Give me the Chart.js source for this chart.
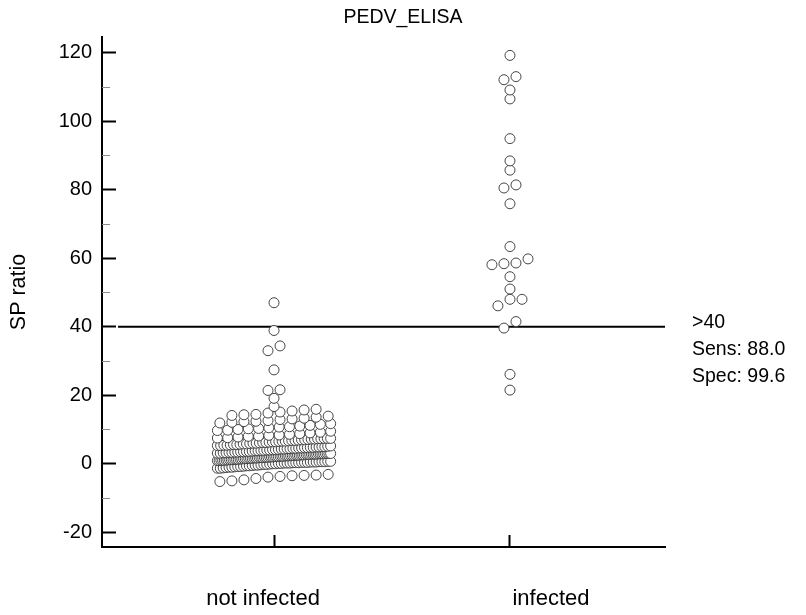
<!DOCTYPE html>
<html>
<head>
<meta charset="utf-8">
<title>PEDV_ELISA</title>
<script src="https://cdn.jsdelivr.net/npm/chart.js@4.4.0/dist/chart.umd.min.js"></script>
<style>
  html, body { margin: 0; padding: 0; background: #fff; }
  #wrap { width: 806px; height: 615px; }
</style>
</head>
<body>
<div id="wrap"><canvas id="dotChart" width="806" height="615"></canvas></div>
<script>
// groups along the x axis
const categories = ['not infected', 'infected'];

// SP ratio of every sample
const notInfected = [
  -5.2, -5.0, -4.7, -4.3, -3.9, -3.7, -3.5, -3.4, -3.3, -3.1,
  -1.3, -1.3, -1.2, -1.1, -1.0, -1.0, -0.9, -0.8, -0.8, -0.7,
  -0.6, -0.6, -0.5, -0.4, -0.4, -0.3, -0.2, -0.2, -0.1, 0.0,
  0.0, 0.1, 0.1, 0.2, 0.2, 0.2, 0.3, 0.3, 0.3, 0.4,
  0.4, 0.4, 0.5, 0.5, 0.5, 0.6, 0.6, 0.6, 0.7, 0.7,
  0.9, 0.9, 1.0, 1.0, 1.0, 1.1, 1.1, 1.2, 1.2, 1.2,
  1.3, 1.3, 1.3, 1.4, 1.4, 1.5, 1.5, 1.5, 1.6, 1.6,
  1.6, 1.7, 1.7, 1.7, 1.8, 1.8, 1.8, 1.9, 1.9, 1.9,
  2.0, 2.0, 2.0, 2.1, 2.1, 2.1, 2.2, 2.2, 2.2, 2.3,
  2.3, 2.3, 2.4, 2.4, 2.4, 2.5, 2.5, 2.5, 2.6, 2.6,
  2.6, 2.7, 2.7, 2.7, 2.8, 2.8, 2.8, 2.9, 2.9, 2.9,
  3.0, 3.0, 3.0, 3.0, 2.9, 2.8,
  3.1, 3.1, 3.2, 3.2, 3.3, 3.3, 3.4, 3.4, 3.5, 3.5,
  3.6, 3.6, 3.7, 3.8, 3.8, 3.9, 3.9, 4.0, 4.0, 4.1,
  4.1, 4.2, 4.3, 4.3, 4.4, 4.4, 4.5, 4.5, 4.6, 4.6,
  4.7, 4.7, 4.8, 4.8, 4.9, 4.9, 5.0, 5.0, 5.1, 5.2,
  5.3, 5.3, 5.4, 5.4, 5.5, 5.6, 5.6, 5.7, 5.8, 5.8,
  5.9, 6.0, 6.0, 6.1, 6.2, 6.2, 6.3, 6.4, 6.4, 6.5,
  6.6, 6.6, 6.7, 6.8, 6.8, 6.9, 7.0, 7.0, 7.1, 7.2,
  7.2, 7.3, 7.3, 7.4, 7.4, 7.4,
  7.5, 7.6, 7.8, 8.0, 8.1, 8.3, 8.4, 8.6, 8.8, 9.0, 9.2, 9.5,
  9.7, 9.8, 10.0, 10.2, 10.3, 10.5, 10.7, 10.8, 11.0, 11.2, 11.5, 11.7,
  11.9, 12.1, 12.3, 12.4, 12.6, 12.9, 13.1, 13.3, 13.6, 13.9,
  14.1, 14.3, 14.4, 14.8, 15.1, 15.4, 15.7, 15.9,
  16.7, 19.1, 21.4, 21.6, 27.4, 33.0, 34.4, 38.9, 47.0
];
const infected = [
  119.2, 113.0, 112.1, 109.1, 106.5, 94.9, 88.4, 85.7, 81.4, 80.5,
  75.9, 63.4, 59.8, 58.6, 58.4, 58.1, 54.6, 51.0, 48.0, 48.0,
  46.1, 41.5, 39.6, 26.1, 21.5
];

const cutoff = 40;
const yTicks = [-20, 0, 20, 40, 60, 80, 100, 120];
const yMinorTicks = [-10, 10, 30, 50, 70, 90, 110];

// axis ranges (x: group 1 and 2 sit at 1 and 2)
const xMin = 0.271, xMax = 2.657;
const yMin = -24.3, yMax = 124.6;

// dot plot layout, in value units
const rowHeight = 2.15;      // values closer than this share a row
const dotStep = 0.051;       // gap between neighbours in a row
const maxRowWidth = 0.48;    // rows wider than this get squeezed

const FONT = '"Liberation Sans", Arial, sans-serif';
Chart.defaults.font.family = FONT;
Chart.defaults.font.size = 18;
Chart.defaults.color = '#000';

// values within one row height sit side by side, low to high from left to right
function swarm(values, center) {
  const sorted = values.slice().sort((a, b) => a - b);
  const pts = [];
  let i = 0;
  while (i < sorted.length) {
    let j = i;
    while (j < sorted.length && sorted[j] - sorted[i] < rowHeight) j++;
    const n = j - i;
    const step = n > 1 ? Math.min(dotStep, maxRowWidth / (n - 1)) : 0;
    for (let k = 0; k < n; k++) {
      pts.push({ x: center + (k - (n - 1) / 2) * step, y: sorted[i + k] });
    }
    i = j;
  }
  return pts;
}

const pct = (arr, test) => (arr.filter(test).length / arr.length * 100).toFixed(1);
const sens = pct(infected, v => v > cutoff);
const spec = pct(notInfected, v => v <= cutoff);

const labelShift = [-11, 41];

// minor ticks, group names and the cut-off note
const extras = {
  id: 'extras',
  afterDraw(chart) {
    const { ctx, chartArea, scales: { x, y } } = chart;
    ctx.save();
    ctx.strokeStyle = '#8c8c8c';
    ctx.lineWidth = 1;
    yMinorTicks.forEach(v => {
      const py = Math.round(y.getPixelForValue(v)) + 0.5;
      ctx.beginPath();
      ctx.moveTo(chartArea.left, py);
      ctx.lineTo(chartArea.left + 8, py);
      ctx.stroke();
    });

    ctx.fillStyle = '#000';
    ctx.font = '22px ' + FONT;
    ctx.textBaseline = 'middle';
    ctx.textAlign = 'center';
    categories.forEach((c, i) => {
      ctx.fillText(c, x.getPixelForValue(i + 1) + labelShift[i], 599);
    });

    ctx.font = '19.5px ' + FONT;
    ctx.textAlign = 'left';
    const ly = y.getPixelForValue(cutoff) - 4;
    ['>' + cutoff, 'Sens: ' + sens, 'Spec: ' + spec].forEach((t, i) => {
      ctx.fillText(t, chartArea.right + 27, ly + i * 27);
    });
    ctx.restore();
  }
};

const dotStyle = {
  pointRadius: 5,
  pointHoverRadius: 5,
  pointBorderWidth: 1,
  pointBorderColor: '#444',
  pointBackgroundColor: '#fff',
  showLine: false
};

const ctx = document.getElementById('dotChart').getContext('2d');
const dotChart = new Chart(ctx, {
  type: 'scatter',
  data: {
    datasets: [
      Object.assign({ label: categories[0], data: swarm(notInfected, 1) }, dotStyle),
      Object.assign({ label: categories[1], data: swarm(infected, 2) }, dotStyle),
      {
        label: 'cut-off',
        data: [{ x: xMin + 0.068, y: cutoff }, { x: xMax, y: cutoff }],
        showLine: true,
        borderColor: '#000',
        borderWidth: 2,
        pointRadius: 0,
        pointHoverRadius: 0
      }
    ]
  },
  options: {
    responsive: false,
    animation: false,
    devicePixelRatio: 1,
    layout: { padding: 0 },
    plugins: {
      legend: { display: false },
      tooltip: { enabled: false },
      title: {
        display: true,
        text: 'PEDV_ELISA',
        font: { size: 19.5, weight: 'normal' },
        color: '#000',
        padding: { top: 6, bottom: 7.5 }
      }
    },
    scales: {
      x: {
        type: 'linear',
        min: xMin,
        max: xMax,
        afterBuildTicks: s => { s.ticks = [{ value: 1 }, { value: 2 }]; },
        afterFit: s => { s.height = 68; },
        ticks: { display: false },
        grid: {
          display: true,
          drawOnChartArea: false,
          drawTicks: true,
          tickLength: -12,
          tickColor: '#000',
          tickWidth: 2
        },
        border: { display: true, color: '#000', width: 2 }
      },
      y: {
        min: yMin,
        max: yMax,
        afterBuildTicks: s => { s.ticks = yTicks.map(v => ({ value: v })); },
        afterFit: s => { s.width = 102; },
        ticks: { padding: 24, color: '#000', font: { size: 20 } },
        grid: {
          display: true,
          drawOnChartArea: false,
          drawTicks: true,
          tickLength: -14,
          tickColor: '#000',
          tickWidth: 2
        },
        border: { display: true, color: '#000', width: 2 },
        title: {
          display: true,
          text: 'SP ratio',
          color: '#000',
          font: { size: 21.5 },
          padding: { top: 6.5, bottom: 0 }
        }
      },
      // empty strip on the right that holds the cut-off note
      side: {
        position: 'right',
        afterFit: s => { s.width = 141; },
        ticks: { display: false },
        grid: { display: false },
        border: { display: false }
      }
    }
  },
  plugins: [extras]
});
</script>
</body>
</html>
